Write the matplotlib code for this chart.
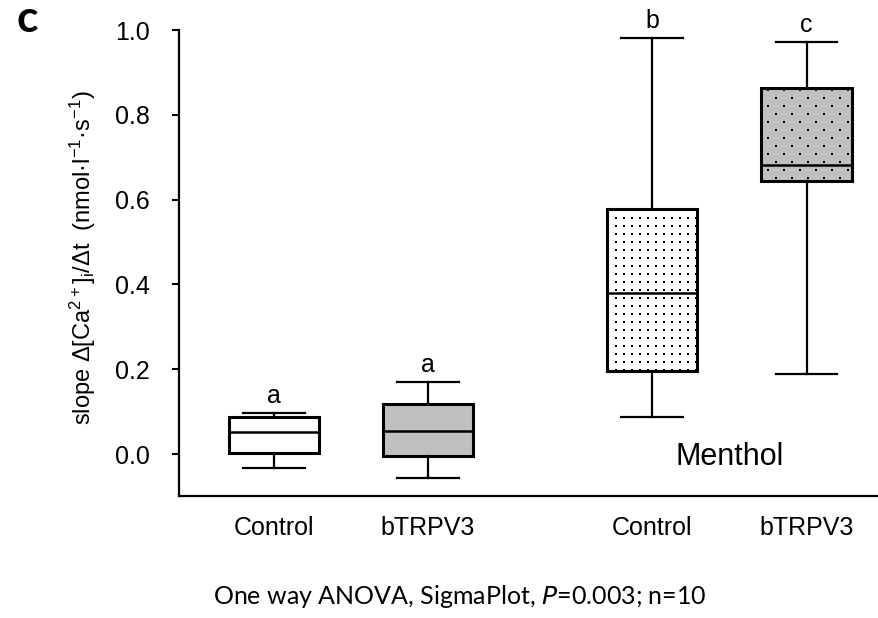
import numpy as np
import matplotlib
matplotlib.use("Agg")
import matplotlib.pyplot as plt

# box statistics
groups = ["Control", "bTRPV3", "Control", "bTRPV3"]
positions = [1.0, 2.0, 3.455, 4.46]
whislo = [-0.033, -0.057, 0.087, 0.189]
q1 = [0.002, -0.005, 0.196, 0.644]
medians = [0.052, 0.054, 0.380, 0.682]
q3 = [0.087, 0.118, 0.578, 0.863]
whishi = [0.097, 0.170, 0.981, 0.972]
letters = ["a", "a", "b", "c"]
yticks = [0.0, 0.2, 0.4, 0.6, 0.8, 1.0]

fills = ["white", "#c0c0c0", "white", "#c0c0c0"]

plt.rcParams['font.family'] = ['Liberation Sans', 'DejaVu Sans']
plt.rcParams['mathtext.fontset'] = 'custom'
plt.rcParams['mathtext.rm'] = 'Liberation Sans'
plt.rcParams['mathtext.default'] = 'regular'

fig = plt.figure(figsize=(8.79, 6.18), dpi=100)
ax = fig.add_axes([179 / 879, 1 - 496.4 / 618, 700 / 879, (496.4 - 30) / 618])

stats = []
for i in range(len(groups)):
    stats.append({"med": medians[i], "q1": q1[i], "q3": q3[i],
                  "whislo": whislo[i], "whishi": whishi[i], "label": groups[i]})

bp = ax.bxp(stats, positions=positions, widths=0.59, capwidths=0.40,
            showfliers=False, patch_artist=True,
            boxprops=dict(linewidth=2.2, edgecolor="black"),
            whiskerprops=dict(linewidth=1.6, color="black"),
            capprops=dict(linewidth=1.6, color="black"),
            medianprops=dict(linewidth=1.8, color="black"))

for box, fc in zip(bp['boxes'], fills):
    box.set_facecolor(fc)

# dotted fill for the menthol boxes (8 px grid / staggered grid)
gx = np.arange(0, 8.79, 0.08)
gy = np.arange(0, 6.18, 0.08)
xx, yy = np.meshgrid(gx, gy)
dots3 = ax.scatter(xx.ravel(), yy.ravel(), s=2.2, marker='s', color='black',
                   linewidths=0, transform=fig.dpi_scale_trans, zorder=2.5)
dots3.set_clip_path(bp['boxes'][2])

xs, ys = [], []
for j, y in enumerate(gy):
    off = 0.08 if j % 2 else 0.0
    row = np.arange(off, 8.79, 0.16)
    xs.extend(row)
    ys.extend([y] * len(row))
dots4 = ax.scatter(xs, ys, s=2.2, marker='s', color='black',
                   linewidths=0, transform=fig.dpi_scale_trans, zorder=2.5)
dots4.set_clip_path(bp['boxes'][3])

for p, top, lab in zip(positions, whishi, letters):
    ax.text(p, top + 0.024, lab, ha='center', va='baseline', fontsize=18,
            clip_on=False)

ax.text(np.mean(positions[2:]), -0.008, "Menthol", ha='center', va='center',
        fontsize=22)

ax.set_xlim(0.383, 4.93)
ax.set_ylim(-0.1, 1.0)
ax.set_yticks(yticks)
ax.set_yticklabels(["%.1f" % t for t in yticks])
ax.set_xticks(positions)
ax.set_xticklabels(groups)
ax.tick_params(axis='y', direction='out', length=5, width=1.5, pad=16,
               labelsize=18)
ax.tick_params(axis='x', length=0, pad=14, labelsize=18)
ax.spines['top'].set_visible(False)
ax.spines['right'].set_visible(False)
ax.spines['left'].set_linewidth(1.6)
ax.spines['bottom'].set_linewidth(1.6)

fig.text(83 / 879, 1 - 258 / 618,
         "slope Δ[Ca$^{2+}$]$_i$/Δt  (nmol·l$^{-1}$·s$^{-1}$)",
         rotation=90, ha='center', va='center', fontsize=17)

fig.text(17 / 879, 1 - 32 / 618, "c", fontsize=32, fontweight='bold',
         family='Lato', ha='left', va='baseline')
fig.text(460 / 879, 1 - 597 / 618,
         "One way ANOVA, SigmaPlot, $\\it{P}$=0.003; n=10",
         fontsize=18, family='Lato', ha='center', va='center')

fig.savefig("out.png", dpi=100)
